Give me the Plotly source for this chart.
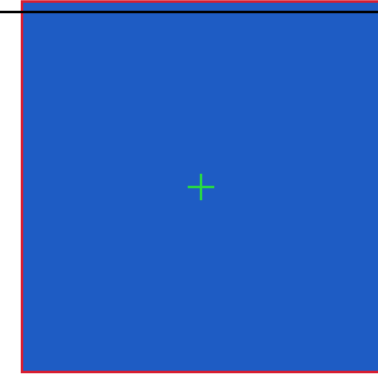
import plotly.graph_objects as go

# Scene values (pixel-space coordinates of the original picture)
target_x = [201]
target_y = [187]
panel_bounds = [22, 1.5, 400, 372]   # x0, y0, x1, y1
horizon_y = [12, 12]
horizon_x = [0, 378]

fig = go.Figure()

fig.add_shape(type="rect", xref="x", yref="y",
              x0=panel_bounds[0], y0=panel_bounds[1], x1=panel_bounds[2], y1=panel_bounds[3],
              fillcolor="rgb(30,92,196)", line=dict(color="rgb(215,30,50)", width=2.5), layer="below")

fig.add_trace(go.Scatter(x=horizon_x, y=horizon_y, mode="lines",
                         line=dict(color="black", width=2.5), hoverinfo="skip", showlegend=False))

fig.add_trace(go.Scatter(x=target_x, y=target_y, mode="markers",
                         marker=dict(symbol="cross-thin", size=19,
                                     line=dict(color="rgb(40,215,70)", width=2.5)),
                         showlegend=False))

fig.update_layout(width=378, height=375, margin=dict(l=0, r=0, t=0, b=0),
                  paper_bgcolor="white", plot_bgcolor="white",
                  xaxis=dict(range=[0, 378], visible=False, fixedrange=True),
                  yaxis=dict(range=[375, 0], visible=False, fixedrange=True))

fig.write_html("out.html", config={"displayModeBar": False},
               post_script="document.body.style.margin='0';document.body.style.overflow='hidden';")
